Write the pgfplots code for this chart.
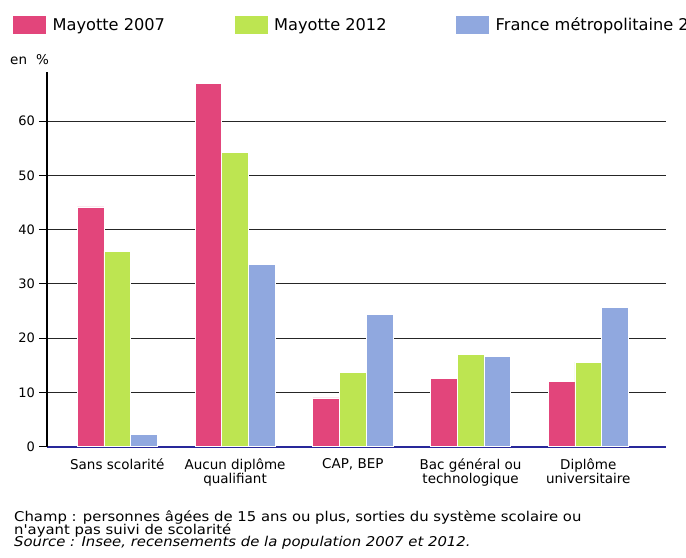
\documentclass[border=0pt]{standalone}
\usepackage{pgfplots}
\pgfplotsset{compat=1.18}
\usepackage{fontspec}
\setmainfont{DejaVu Sans}
\newfontfamily\footfont[FakeStretch=1.1]{DejaVu Sans}
\definecolor{cpink}{HTML}{E2457B}
\definecolor{cgreen}{HTML}{BDE551}
\definecolor{cblue}{HTML}{90A8DF}
\definecolor{cnavy}{HTML}{28289A}
\begin{document}
\begin{tikzpicture}
\begin{axis}[
  scale only axis, width=619bp, height=375bp,
  xmin=-0.597, xmax=4.66, ymin=0, ymax=69.1,
  ybar, bar width=0.2265,
  axis x line*=bottom, axis y line*=left,
  x axis line style={cnavy, line width=1.6bp},
  y axis line style={black, line width=1.2bp},
  ytick={0,10,...,60}, ymajorgrids,
  grid style={black!85, line width=1bp},
  major tick length=8bp, tick align=outside,
  ytick style={black, line width=1bp},
  xtick={0,...,4}, xtick style={draw=none},
  xticklabels={Sans scolarité, {Aucun diplôme\\qualifiant}, {CAP, BEP}, {Bac général ou\\technologique}, {Diplôme\\universitaire}},
  xticklabel style={align=center, font=\fontsize{13.5bp}{12.5bp}\selectfont},
  /pgf/number format/assume math mode=true,
  yticklabel style={font=\fontsize{13bp}{15bp}\selectfont, inner xsep=4bp},
  legend style={at={(-0.0565,1.1512)}, anchor=north west, draw=none, fill=none,
    legend columns=3, font=\fontsize{16.2bp}{18bp}\selectfont,
    inner sep=0pt, outer sep=0pt, row sep=0pt,
    nodes={inner sep=0pt},
    /tikz/every odd column/.append style={column sep=6bp},
    /tikz/every even column/.append style={column sep=68.5bp}},
  legend cell align=left,
  legend image code/.code={\fill[#1] (0bp,-9.5bp) rectangle (34bp,9.5bp);},
]
\addplot[fill=cpink, draw=white, line width=0.6bp, bar shift=-0.2265] coordinates {(0,44.2) (1,66.9) (2,9.0) (3,12.6) (4,12.0)};
\addplot[fill=cgreen, draw=white, line width=0.6bp, bar shift=0] coordinates {(0,36.05) (1,54.3) (2,13.7) (3,17.0) (4,15.6)};
\addplot[fill=cblue, draw=white, line width=0.6bp, bar shift=0.2265] coordinates {(0,2.34) (1,33.6) (2,24.4) (3,16.7) (4,25.6)};
\legend{Mayotte 2007, Mayotte 2012, France métropolitaine 2012}
\end{axis}
\node[anchor=base west, inner sep=0pt, font=\fontsize{13.5bp}{15bp}\selectfont] at (-37bp,381.7bp) {en\hspace{9bp}\%};
\node[anchor=base west, inner sep=0pt, font=\fontsize{13.5bp}{15bp}\footfont] at (-33bp,-74.8bp) {Champ : personnes âgées de 15 ans ou plus, sorties du système scolaire ou};
\node[anchor=base west, inner sep=0pt, font=\fontsize{13.5bp}{15bp}\footfont] at (-33bp,-87.3bp) {n'ayant pas suivi de scolarité};
\node[anchor=base west, inner sep=0pt, font=\fontsize{13.5bp}{15bp}\footfont\itshape] at (-33bp,-99.3bp) {Source : Insee, recensements de la population 2007 et 2012.};
\pgfresetboundingbox
\useasboundingbox (-47bp,-111.3bp) rectangle (639bp,446.7bp);
\end{tikzpicture}
\end{document}
